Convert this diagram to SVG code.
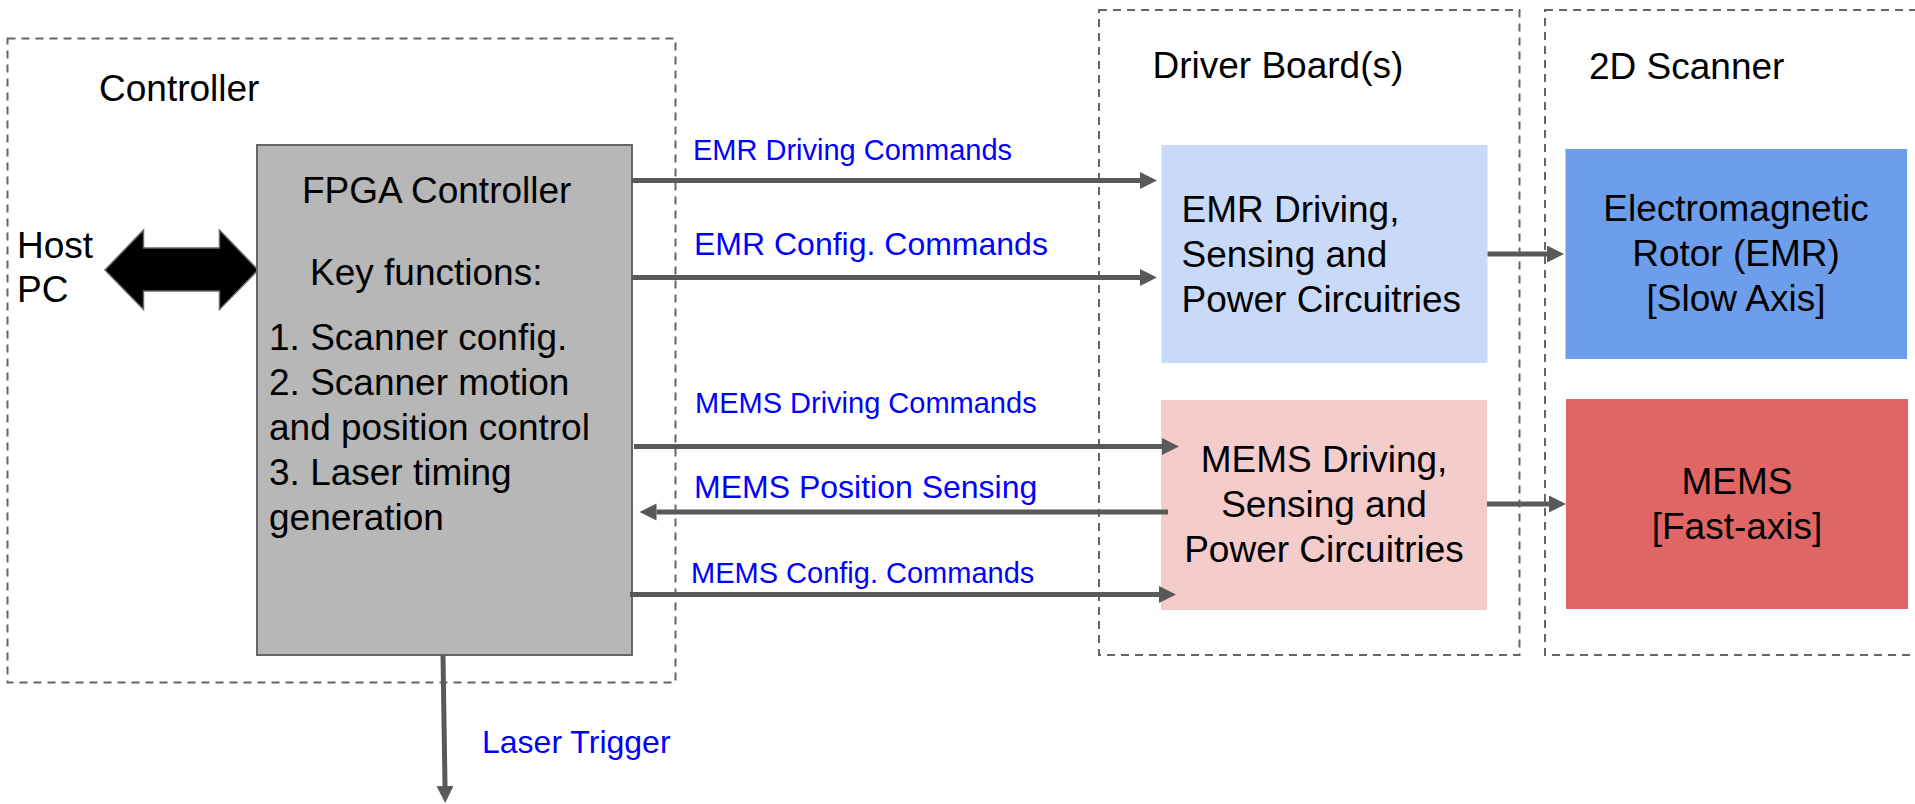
<svg xmlns="http://www.w3.org/2000/svg" width="1915" height="804" viewBox="0 0 1915 804">
  <style>
    .frame { fill: none; stroke: #666666; stroke-width: 2; stroke-dasharray: 8 6; }
    .t { font-family: "Liberation Sans", Arial, sans-serif; font-size: 37px; fill: #000000; }
    .lbl { font-family: "Liberation Sans", Arial, sans-serif; fill: #0000ff; }
    .s29 { font-size: 29px; }
    .s32 { font-size: 32px; }
    .wire { stroke: #595959; stroke-width: 5; fill: none; }
    .mid { text-anchor: middle; }
  </style>
  <defs>
    <marker id="head" markerUnits="userSpaceOnUse" markerWidth="18" markerHeight="18" refX="0" refY="8.5" orient="auto">
      <path d="M0,0 L17,8.5 L0,17 Z" fill="#595959"/>
    </marker>
  </defs>

  <rect width="1915" height="804" fill="#ffffff"/>

  <!-- dashed group frames -->
  <g id="controller-frame">
    <rect class="frame" x="7.5" y="38.5" width="668" height="644"/>
    <text class="t" x="99" y="101">Controller</text>
  </g>
  <g id="driver-frame">
    <rect class="frame" x="1099" y="10" width="420.5" height="645"/>
    <text class="t" x="1152.5" y="78">Driver Board(s)</text>
  </g>
  <g id="scanner-frame">
    <rect class="frame" x="1545" y="10" width="420" height="645"/>
    <text class="t" x="1589" y="79">2D Scanner</text>
  </g>

  <!-- host link -->
  <g id="host-pc">
    <text class="t" x="17" y="258">Host</text>
    <text class="t" x="17" y="302">PC</text>
    <path d="M105,270 L143.5,230 L143.5,248 L219.5,248 L219.5,230 L258,270 L219.5,309.5 L219.5,291 L143.5,291 L143.5,309.5 Z" fill="#000000" stroke="#666666" stroke-width="1.5" stroke-linejoin="miter"/>
  </g>

  <!-- FPGA controller -->
  <g id="fpga">
    <rect x="257" y="145" width="375" height="510" fill="#b7b7b7" stroke="#666666" stroke-width="2"/>
    <text class="t" x="302" y="203">FPGA Controller</text>
    <text class="t" x="310" y="285">Key functions:</text>
    <text class="t" x="269" y="350">1. Scanner config.</text>
    <text class="t" x="269" y="395">2. Scanner motion</text>
    <text class="t" x="269" y="440">and position control</text>
    <text class="t" x="269" y="485">3. Laser timing</text>
    <text class="t" x="269" y="530">generation</text>
  </g>

  <!-- driver boards -->
  <g id="emr-driver">
    <rect x="1161.5" y="145" width="326" height="218" fill="#c9daf8"/>
    <text class="t" x="1181.5" y="222">EMR Driving,</text>
    <text class="t" x="1181.5" y="267">Sensing and</text>
    <text class="t" x="1181.5" y="312">Power Circuitries</text>
  </g>
  <g id="mems-driver">
    <rect x="1161" y="400" width="326" height="210" fill="#f4cccc"/>
    <text class="t mid" x="1324" y="472">MEMS Driving,</text>
    <text class="t mid" x="1324" y="517">Sensing and</text>
    <text class="t mid" x="1324" y="562">Power Circuitries</text>
  </g>

  <!-- scanner axes -->
  <g id="emr-rotor">
    <rect x="1565.5" y="149" width="341.5" height="210" fill="#6d9eeb"/>
    <text class="t mid" x="1736" y="221">Electromagnetic</text>
    <text class="t mid" x="1736" y="266">Rotor (EMR)</text>
    <text class="t mid" x="1736" y="311">[Slow Axis]</text>
  </g>
  <g id="mems">
    <rect x="1566" y="399" width="342" height="210" fill="#e06666"/>
    <text class="t mid" x="1737" y="494">MEMS</text>
    <text class="t mid" x="1737" y="539">[Fast-axis]</text>
  </g>

  <!-- connectors -->
  <g id="connectors">
    <line class="wire" x1="632" y1="180.5" x2="1140" y2="180.5" marker-end="url(#head)"/>
    <line class="wire" x1="632" y1="277.5" x2="1140" y2="277.5" marker-end="url(#head)"/>
    <line class="wire" x1="634" y1="446.5" x2="1162" y2="446.5" marker-end="url(#head)"/>
    <line class="wire" x1="1168" y1="512" x2="656.5" y2="512" marker-end="url(#head)"/>
    <line class="wire" x1="630" y1="594.5" x2="1159" y2="594.5" marker-end="url(#head)"/>
    <line class="wire" x1="1487.5" y1="254" x2="1547" y2="254" marker-end="url(#head)"/>
    <line class="wire" x1="1487" y1="504" x2="1549" y2="504" marker-end="url(#head)"/>
    <line class="wire" x1="443" y1="655" x2="445" y2="786" marker-end="url(#head)"/>

    <text class="lbl s29" x="693" y="160">EMR Driving Commands</text>
    <text class="lbl s32" x="694" y="255">EMR Config. Commands</text>
    <text class="lbl s29" x="695" y="413">MEMS Driving Commands</text>
    <text class="lbl s32" x="694" y="498">MEMS Position Sensing</text>
    <text class="lbl s29" x="691" y="583">MEMS Config. Commands</text>
    <text class="lbl s32" x="482" y="753">Laser Trigger</text>
  </g>
</svg>
